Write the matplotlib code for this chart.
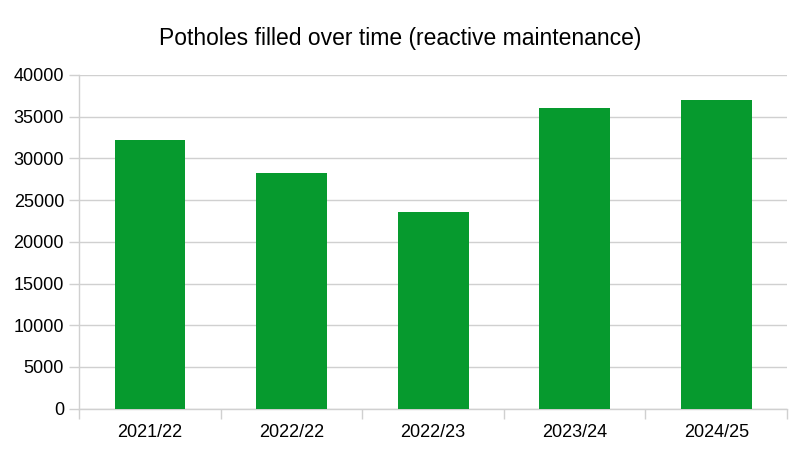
import numpy as np
import matplotlib
matplotlib.use('Agg')
import matplotlib.pyplot as plt

# data
years = ['2021/22', '2022/22', '2022/23', '2023/24', '2024/25']
potholes = [32200, 28300, 23600, 36000, 37000]
y_ticks = [0, 5000, 10000, 15000, 20000, 25000, 30000, 35000, 40000]

plt.rcParams['font.family'] = ['Liberation Sans', 'DejaVu Sans']

W, H = 801, 451
fig = plt.figure(figsize=(W / 100, H / 100), dpi=100)
ax = fig.add_axes([79.3 / W, (H - 408.7) / H, (787 - 79.3) / W, (408.7 - 75) / H])

x = np.arange(len(years))
ax.bar(x, potholes, width=0.5, color='#069a2e', zorder=3)

ax.set_xlim(-0.5, len(years) - 0.5)
ax.set_ylim(0, 40000)
ax.set_yticks(y_ticks)
ax.set_yticklabels([str(v) for v in y_ticks])
ax.set_xticks(x)
ax.set_xticklabels(years)
# tick marks sit between categories
ax.set_xticks(np.arange(-0.5, len(years)), minor=True)
ax.tick_params(axis='x', which='major', length=0, pad=11, labelsize=13)
ax.tick_params(axis='x', which='minor', length=7, color='#d0d0d0', width=1)
ax.tick_params(axis='y', length=7, color='#d0d0d0', width=1, pad=4, labelsize=13)

ax.grid(axis='y', color='#d0d0d0', linewidth=1, zorder=0)
for s in ['top', 'right']:
    ax.spines[s].set_visible(False)
for s in ['left', 'bottom']:
    ax.spines[s].set_color('#d0d0d0')
    ax.spines[s].set_linewidth(1)

fig.text(0.5, 1 - 38 / H, 'Potholes filled over time (reactive maintenance)',
         ha='center', va='center', fontsize=16.5)

fig.savefig('out.png', dpi=100)
